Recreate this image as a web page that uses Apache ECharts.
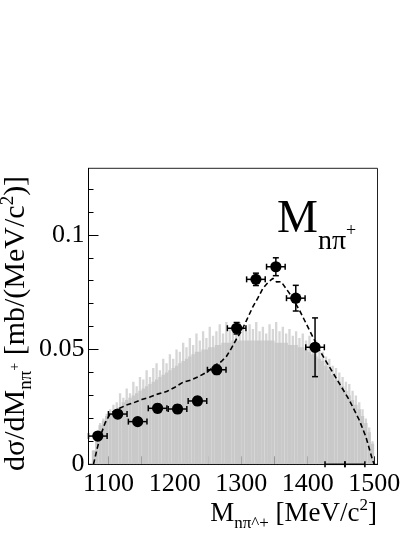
<!DOCTYPE html>
<html>
<head>
<meta charset="utf-8">
<script src="https://cdn.jsdelivr.net/npm/echarts@6/dist/echarts.min.js"></script>
<style>
  html, body { margin: 0; padding: 0; background: #fff; }
  #chart { width: 414px; height: 535px; }
</style>
</head>
<body>
<div id="chart"></div>
<script>
const FONT = 'Liberation Serif'

// axis ticks / labels
const xTicks = [1100, 1150, 1200, 1250, 1300, 1350, 1400, 1450, 1500]
const xLabels = [1100, 1200, 1300, 1400, 1500]
const yMajor = [0, 0.05, 0.1]
const yMinor = [0.01, 0.02, 0.03, 0.04, 0.06, 0.07, 0.08, 0.09, 0.11, 0.12]

// phase-space histogram (5 MeV bins starting at 1075)
const histStart = 1075
const histStep = 5
const histBody = [
  0.006, 0.013, 0.017, 0.019, 0.021, 0.022, 0.023, 0.024, 0.025, 0.027,
  0.028, 0.029, 0.030, 0.031, 0.032, 0.033, 0.034, 0.035, 0.036, 0.037,
  0.038, 0.039, 0.040, 0.041, 0.042, 0.043, 0.044, 0.045, 0.046, 0.047,
  0.048, 0.049, 0.049, 0.050, 0.050, 0.051, 0.051, 0.052, 0.052, 0.053,
  0.053, 0.053, 0.054, 0.054, 0.054, 0.054, 0.054, 0.054, 0.054, 0.054,
  0.054, 0.054, 0.054, 0.054, 0.054, 0.053, 0.053, 0.053, 0.053, 0.052,
  0.052, 0.052, 0.051, 0.051, 0.050, 0.049, 0.048, 0.047, 0.046, 0.045,
  0.043, 0.041, 0.039, 0.037, 0.036, 0.034, 0.032, 0.030, 0.028, 0.026,
  0.024, 0.021, 0.018, 0.014, 0.009, 0.000
]
const histSpike = [
  0.006, 0.014, 0.018, 0.020, 0.022, 0.024, 0.026, 0.027, 0.031, 0.029,
  0.033, 0.031, 0.036, 0.034, 0.038, 0.037, 0.041, 0.038, 0.042, 0.044,
  0.041, 0.046, 0.044, 0.048, 0.046, 0.050, 0.049, 0.053, 0.051, 0.055,
  0.052, 0.057, 0.054, 0.058, 0.055, 0.060, 0.056, 0.058, 0.061, 0.057,
  0.062, 0.059, 0.061, 0.058, 0.062, 0.060, 0.058, 0.061, 0.059, 0.062,
  0.058, 0.060, 0.057, 0.061, 0.059, 0.062, 0.058, 0.060, 0.057, 0.059,
  0.056, 0.058, 0.055, 0.057, 0.054, 0.056, 0.052, 0.054, 0.050, 0.049,
  0.047, 0.046, 0.043, 0.042, 0.040, 0.038, 0.036, 0.035, 0.032, 0.030,
  0.027, 0.024, 0.020, 0.016, 0.010, 0.000
]

// simulation curve (dashed)
const curveX = [1077.5, 1082.5, 1087.5, 1095, 1102.5, 1110, 1117.5, 1127, 1137, 1150, 1162.5, 1175, 1187.5, 1200, 1212.5,
  1225, 1237.5, 1250, 1262.5, 1270, 1277.5, 1285, 1292.5, 1300, 1307.5, 1317.5, 1325, 1332.5, 1340, 1347.5, 1353, 1360, 1372.5,
  1387.5, 1402.5, 1417.5, 1432.5, 1447.5, 1462.5, 1477.5, 1487.5, 1497.5, 1500]
const curveY = [0, 0.0062, 0.012, 0.018, 0.022, 0.0235, 0.0245, 0.0258, 0.0267, 0.0282, 0.0293, 0.0307, 0.0317, 0.0336, 0.0358,
  0.0368, 0.0385, 0.0405, 0.0435, 0.0448, 0.047, 0.0505, 0.0545, 0.058, 0.0625, 0.0687, 0.0725, 0.0767, 0.0792, 0.081, 0.0795, 0.0796, 0.0745,
  0.0672, 0.0585, 0.0498, 0.0425, 0.0353, 0.028, 0.0193, 0.012, 0.0019, 0]

// measured points
const pointX = [1084, 1114, 1144, 1174, 1204, 1234, 1263, 1293, 1322, 1352, 1382, 1411, 1441, 1471]
const pointY = [0.0123, 0.0219, 0.0186, 0.0244, 0.0241, 0.0276, 0.0412, 0.0593, 0.0806, 0.0861, 0.0724, 0.0510, 0, 0]
const pointXErr = [14, 14, 14, 14, 14, 14, 14, 14, 14, 14, 14, 14, 15, 15]
const pointYErr = [0.0015, 0.0015, 0.0015, 0.0018, 0.0018, 0.0018, 0.002, 0.0025, 0.0027, 0.0039, 0.0056, 0.0128, 0, 0]

const chart = echarts.init(document.getElementById('chart'))

// text runs with sub/superscripts, laid out with canvas metrics
const ctx = document.createElement('canvas').getContext('2d')
function textRun(parts) {
  let x = 0
  const children = parts.map(p => {
    ctx.font = p.size + 'px "' + FONT + '"'
    const el = {
      type: 'text',
      x: x,
      y: p.dy - 0.34 * p.size,
      style: {
        text: p.t, fontSize: p.size, fontFamily: FONT, fill: '#000',
        align: 'left', verticalAlign: 'middle'
      }
    }
    x += ctx.measureText(p.t).width
    return el
  })
  return { children, width: x }
}

const yTitle = textRun([
  { t: 'dσ/dM', size: 30, dy: 0 },
  { t: 'nπ', size: 19, dy: 6 },
  { t: '+', size: 14, dy: -6 },
  { t: ' [mb/(MeV/c', size: 30, dy: 0 },
  { t: '2', size: 19, dy: -12 },
  { t: ')]', size: 30, dy: 0 }
])
const xTitle = textRun([
  { t: 'M', size: 27, dy: 0 },
  { t: 'nπ^+', size: 17, dy: 6 },
  { t: ' [MeV/c', size: 27, dy: 0 },
  { t: '2', size: 17, dy: -12 },
  { t: ']', size: 27, dy: 0 }
])
const label = textRun([
  { t: 'M', size: 46, dy: 0 },
  { t: 'nπ', size: 28, dy: 15 },
  { t: '+', size: 18, dy: 1 }
])

function histItem(color, frac) {
  return function (params, api) {
    const p0 = api.coord([api.value(0), api.value(2)])
    const p1 = api.coord([api.value(1), 0])
    const w = p1[0] - p0[0]
    const ww = w * frac
    return {
      type: 'rect',
      shape: { x: p0[0] + (w - ww) / 2, y: p0[1], width: ww, height: p1[1] - p0[1] },
      style: { fill: color }
    }
  }
}

function pointItem(params, api) {
  const x = api.value(0), y = api.value(1), ex = api.value(2), ey = api.value(3)
  const c = api.coord([x, y])
  const l = api.coord([x - ex, y]), r = api.coord([x + ex, y])
  const t = api.coord([x, y + ey]), b = api.coord([x, y - ey])
  const ls = { stroke: '#000', lineWidth: 1.5 }
  const cap = 3
  const kids = [
    { type: 'line', shape: { x1: l[0], y1: c[1], x2: r[0], y2: c[1] }, style: ls },
    { type: 'line', shape: { x1: l[0], y1: c[1] - cap, x2: l[0], y2: c[1] + cap }, style: ls },
    { type: 'line', shape: { x1: r[0], y1: c[1] - cap, x2: r[0], y2: c[1] + cap }, style: ls }
  ]
  if (ey > 0) {
    kids.push(
      { type: 'line', shape: { x1: c[0], y1: t[1], x2: c[0], y2: b[1] }, style: ls },
      { type: 'line', shape: { x1: c[0] - cap, y1: t[1], x2: c[0] + cap, y2: t[1] }, style: ls },
      { type: 'line', shape: { x1: c[0] - cap, y1: b[1], x2: c[0] + cap, y2: b[1] }, style: ls }
    )
  }
  if (y > 0) {
    kids.push({ type: 'circle', shape: { cx: c[0], cy: c[1], r: 5.6 }, style: { fill: '#000' } })
  }
  return { type: 'group', children: kids }
}

const histBodyData = histBody.map((v, i) => [histStart + i * histStep, histStart + (i + 1) * histStep, v])
const histSpikeData = histSpike.map((v, i) => [histStart + i * histStep, histStart + (i + 1) * histStep, v])

chart.setOption({
  animation: false,
  textStyle: { fontFamily: FONT },
  grid: {
    left: 88.5, right: 36.5, top: 168.3, bottom: 70.7,
    show: true, borderColor: '#222', borderWidth: 1
  },
  xAxis: {
    type: 'value', min: 1070, max: 1505,
    axisLine: { lineStyle: { color: '#000', width: 1 } },
    axisTick: { customValues: xTicks, inside: true, length: 8, lineStyle: { color: '#000' } },
    axisLabel: {
      customValues: xLabels, color: '#000', fontFamily: FONT, fontSize: 26, margin: 7,
      formatter: v => String(v)
    },
    splitLine: { show: false }
  },
  yAxis: [{
    type: 'value', min: 0, max: 0.129,
    axisLine: { show: true, lineStyle: { color: '#000', width: 1 } },
    axisTick: { customValues: yMajor, inside: true, length: 10, lineStyle: { color: '#000' } },
    axisLabel: {
      customValues: yMajor, color: '#000', fontFamily: FONT, fontSize: 26, margin: 4,
      formatter: v => String(v)
    },
    splitLine: { show: false }
  }, {
    type: 'value', min: 0, max: 0.129, position: 'left',
    axisLine: { show: false },
    axisTick: { customValues: yMinor, inside: true, length: 5, lineStyle: { color: '#000' } },
    axisLabel: { show: false },
    splitLine: { show: false }
  }],
  series: [{
    type: 'custom', renderItem: histItem('#d6d6d6', 0.7), data: histSpikeData,
    encode: { x: [0, 1], y: 2 }, clip: true, silent: true, z: 1
  }, {
    type: 'custom', renderItem: histItem('#c9c9c9', 1), data: histBodyData,
    encode: { x: [0, 1], y: 2 }, clip: true, silent: true, z: 2
  }, {
    type: 'line', data: curveX.map((x, i) => [x, curveY[i]]),
    showSymbol: false, symbol: 'none', z: 3,
    lineStyle: { color: '#000', width: 1.6, type: [5, 3] }
  }, {
    type: 'custom', renderItem: pointItem,
    data: pointX.map((x, i) => [x, pointY[i], pointXErr[i], pointYErr[i]]),
    encode: { x: 0, y: 1 }, clip: false, z: 4
  }],
  graphic: [{
    type: 'group', x: 26, y: 471, rotation: Math.PI / 2, children: yTitle.children
  }, {
    type: 'group', x: 377 - xTitle.width, y: 523, children: xTitle.children
  }, {
    type: 'group', x: 277, y: 236, children: label.children
  }]
})
</script>
</body>
</html>
